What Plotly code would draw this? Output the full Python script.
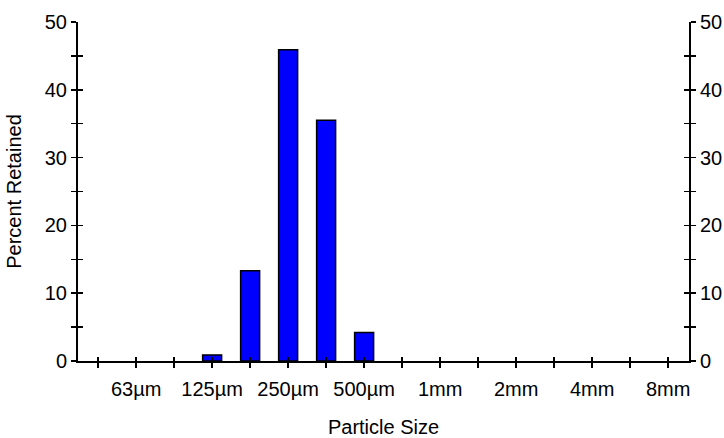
import plotly.graph_objects as go

# Sieve size classes (one bar slot each)
sizes = ["45µm", "63µm", "90µm", "125µm", "180µm", "250µm", "355µm", "500µm",
         "710µm", "1mm", "1.4mm", "2mm", "2.8mm", "4mm", "5.6mm", "8mm"]
percent_retained = [0, 0, 0, 0.9, 13.3, 45.9, 35.5, 4.2,
                    0, 0, 0, 0, 0, 0, 0, 0]
tick_labels = ["63µm", "125µm", "250µm", "500µm", "1mm", "2mm", "4mm", "8mm"]
y_ticks = [0, 10, 20, 30, 40, 50]

xpos = list(range(len(sizes)))
bar_y = [v if v > 0 else None for v in percent_retained]
ytick_pos = list(range(0, 55, 5))
ylabels = [str(v) if v in y_ticks else "" for v in ytick_pos]
xlabels = [s if s in tick_labels else "" for s in sizes]

FONT = "Liberation Sans, Arial, sans-serif"
FS = 20

fig = go.Figure()
fig.add_trace(go.Bar(
    x=xpos, y=bar_y, width=0.5,
    marker=dict(color="#0000FF", line=dict(color="black", width=1.5)),
    showlegend=False, hoverinfo="skip",
))
# empty traces so the overlay axes (tick crosses, right axis) get drawn
for xa, ya in [("x2", "y"), ("x", "y2"), ("x", "y3"), ("x", "y4")]:
    fig.add_trace(go.Scatter(x=[], y=[], xaxis=xa, yaxis=ya,
                             showlegend=False, hoverinfo="skip"))

xr = [-0.53, 15.55]
yr = [0, 50]
common_y = dict(range=yr, showgrid=False, zeroline=False, fixedrange=True,
                automargin=False)
common_x = dict(range=xr, showgrid=False, zeroline=False, fixedrange=True,
                automargin=False)
tk = dict(tickwidth=1.5, tickcolor="black")

fig.update_layout(
    template="none",
    width=724, height=438,
    margin=dict(l=78, r=35, t=22, b=77, autoexpand=False),
    paper_bgcolor="white", plot_bgcolor="white",
    font=dict(family=FONT, size=FS, color="black"),
    xaxis=dict(**common_x, showline=True, linecolor="black", linewidth=2,
               tickmode="array", tickvals=xpos, ticktext=xlabels,
               ticks="outside", ticklen=5, **tk, ticklabelstandoff=4,
               tickfont=dict(size=FS),
               title=dict(text="Particle Size", standoff=22, font=dict(size=FS))),
    xaxis2=dict(**common_x, overlaying="x", anchor="y", side="bottom",
                tickmode="array", tickvals=xpos, ticks="inside", ticklen=4,
                **tk, showticklabels=False, showline=False),
    yaxis=dict(**common_y, showline=True, linecolor="black", linewidth=2,
               tickmode="array", tickvals=ytick_pos, ticktext=ylabels,
               ticks="outside", ticklen=5, **tk,
               tickfont=dict(size=FS),
               title=dict(text="Percent Retained", standoff=18, font=dict(size=FS))),
    yaxis3=dict(**common_y, overlaying="y", anchor="x", side="left",
                tickmode="array", tickvals=ytick_pos, ticks="inside", ticklen=5,
                **tk, showticklabels=False, showline=False),
    yaxis2=dict(**common_y, overlaying="y", anchor="x", side="right",
                showline=True, linecolor="black", linewidth=2,
                tickmode="array", tickvals=ytick_pos, ticktext=ylabels,
                ticks="outside", ticklen=5, **tk,
                tickfont=dict(size=FS)),
    yaxis4=dict(**common_y, overlaying="y", anchor="x", side="right",
                tickmode="array", tickvals=ytick_pos, ticks="inside", ticklen=5,
                **tk, showticklabels=False, showline=False),
)

fig.write_html("out.html",
               config={"displayModeBar": False, "staticPlot": True},
               post_script="document.body.style.margin='0';"
                           "document.body.style.overflow='hidden';")
